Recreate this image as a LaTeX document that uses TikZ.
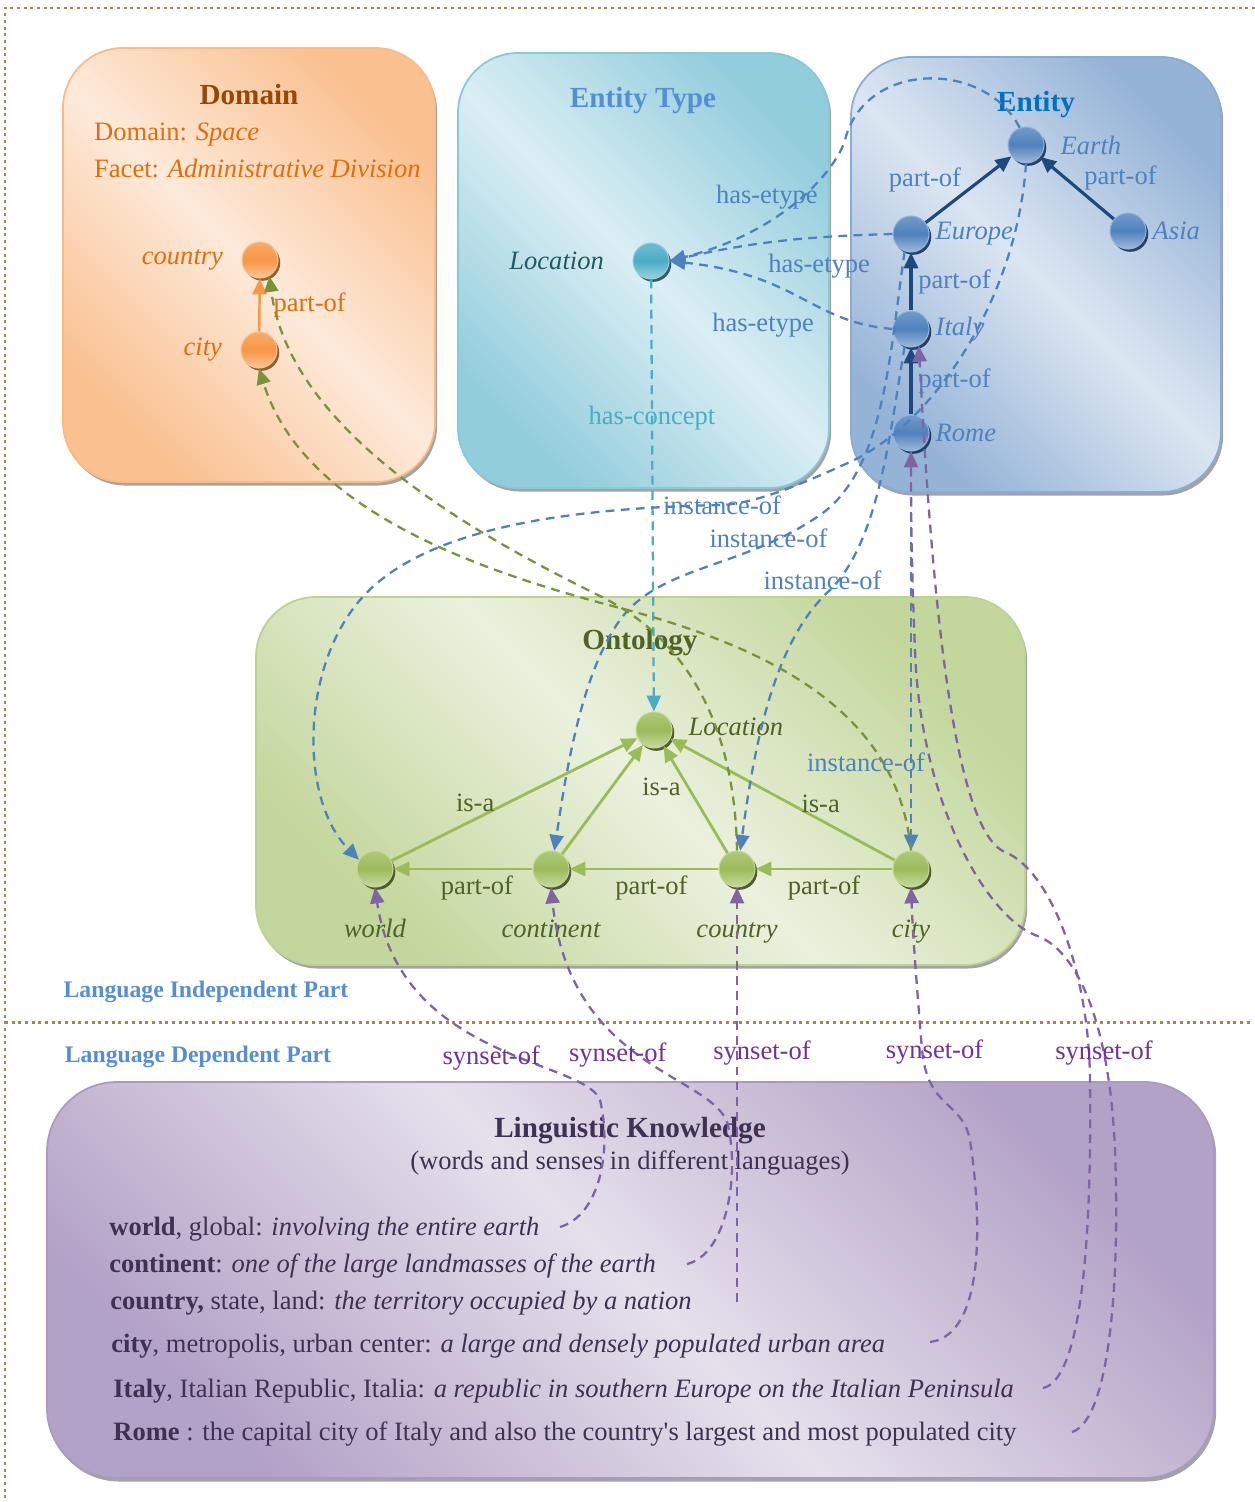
\documentclass[tikz,border=0pt]{standalone}
\usepackage{fontspec}
\setmainfont{Liberation Serif}
\newfontfamily\straightfont{Liberation Serif}
\usetikzlibrary{arrows.meta,shadows,positioning}

\tikzstyle{boxbase}=[rounded corners=1.2cm,line width=1pt,drop shadow={shadow xshift=1.2pt,shadow yshift=-2pt,fill=black!45,opacity=0.8}]
\tikzstyle{domainbox}=[top color=domdark,bottom color=domdark,middle color=domlight,shading angle=-45,draw=domdark!85!domorange,boxbase]
\tikzstyle{etypebox}=[top color=etdark,bottom color=etdark,middle color=etlight,shading angle=-45,draw=etdark!85!etteal,boxbase]
\tikzstyle{entitybox}=[top color=entdark,bottom color=entdark,middle color=entlight,shading angle=-45,draw=entdark!85!entblue,boxbase]
\tikzstyle{ontobox}=[top color=ontdark,bottom color=ontdark,middle color=ontlight,shading angle=-45,draw=ontdark!85!ontgreen,boxbase]
\tikzstyle{lingbox}=[top color=lingdark,bottom color=lingdark,middle color=linglight,shading angle=-45,draw=lingdark!85!lingpurple,boxbase,rounded corners=1.4cm]
\tikzstyle{vertex}=[circle,minimum size=0.72cm,inner sep=0pt,line width=0.6pt]
\tikzstyle{orangevertex}=[vertex,draw=domorange!60!white,top color=domorange!80!white,bottom color=domorange!55!white,middle color=domorange,drop shadow={shadow xshift=1.3pt,shadow yshift=-1.6pt,fill=domorange!55!black,opacity=0.9}]
\tikzstyle{tealvertex}=[vertex,draw=etteal!60!white,top color=etteal!80!white,bottom color=etteal!55!white,middle color=etteal,drop shadow={shadow xshift=1.3pt,shadow yshift=-1.6pt,fill=etteal!45!black,opacity=0.9}]
\tikzstyle{bluevertex}=[vertex,draw=entblue!60!white,top color=entblue!80!white,bottom color=entblue!55!white,middle color=entblue,drop shadow={shadow xshift=1.3pt,shadow yshift=-1.6pt,fill=entnavy!70!black,opacity=0.9}]
\tikzstyle{greenvertex}=[vertex,draw=ontgreen!60!white,top color=ontgreen!80!white,bottom color=ontgreen!55!white,middle color=ontgreen,drop shadow={shadow xshift=1.3pt,shadow yshift=-1.6pt,fill=onttitle!80!black,opacity=0.9}]
\tikzstyle{title}=[font=\fontsize{16.6}{20}\selectfont\bfseries]
\tikzstyle{partname}=[font=\fontsize{13.5}{16}\selectfont\bfseries,text=ettitle]
\tikzstyle{domlbl}=[text=domtext,font=\fontsize{15.1}{18}\selectfont\itshape,label distance=7pt]
\tikzstyle{entlbl}=[text=entblue,font=\fontsize{15.1}{18}\selectfont\itshape,label distance=0pt]
\tikzstyle{ontlbl}=[text=onttitle,font=\fontsize{15.1}{18}\selectfont\itshape,text height=1.6ex,text depth=0.3ex,label distance=0.62cm]
\tikzstyle{lingtext}=[anchor=base west,text=lingtitle,inner sep=0pt]
\tikzstyle{sepline}=[draw=partline,line width=1.7pt,dash pattern=on 1.7pt off 2.1pt]
\tikzstyle{dashline}=[dash pattern=on 5pt off 3.6pt,line width=1.3pt]
\tikzstyle{etypeline}=[dashline,->,draw=entblue]
\tikzstyle{instline}=[dashline,->,draw=entblue]
\tikzstyle{conceptline}=[dashline,->,draw=etteal]
\tikzstyle{domline}=[dashline,->,draw=ontdash]
\tikzstyle{synline}=[dashline,->,draw=lingpurple]
\tikzstyle{isaline}=[->,draw=ontgreen,line width=1.6pt]
\tikzstyle{entline}=[->,draw=entnavy,line width=1.8pt]
\tikzstyle{orangeline}=[->,draw=domorange,line width=1.4pt]

\definecolor{domorange}{RGB}{247,150,70}
\definecolor{domdark}{RGB}{250,192,144}
\definecolor{domlight}{RGB}{253,234,218}
\definecolor{domtitle}{RGB}{152,72,6}
\definecolor{domtext}{RGB}{228,108,10}
\definecolor{etteal}{RGB}{75,172,198}
\definecolor{etdark}{RGB}{146,205,220}
\definecolor{etlight}{RGB}{219,238,244}
\definecolor{ettitle}{RGB}{85,142,213}
\definecolor{etlabel}{RGB}{33,89,104}
\definecolor{entblue}{RGB}{79,129,189}
\definecolor{entdark}{RGB}{149,179,215}
\definecolor{entlight}{RGB}{220,230,242}
\definecolor{enttitle}{RGB}{0,112,192}
\definecolor{entnavy}{RGB}{31,73,125}
\definecolor{ontgreen}{RGB}{155,187,89}
\definecolor{ontdark}{RGB}{195,214,155}
\definecolor{ontlight}{RGB}{235,241,222}
\definecolor{onttitle}{RGB}{79,98,40}
\definecolor{ontdash}{RGB}{119,147,60}
\definecolor{lingpurple}{RGB}{128,100,162}
\definecolor{lingdark}{RGB}{179,162,199}
\definecolor{linglight}{RGB}{230,224,236}
\definecolor{lingtitle}{RGB}{63,49,81}
\definecolor{synlabel}{RGB}{112,48,160}
\definecolor{partline}{RGB}{150,138,85}

\begin{document}
\begin{tikzpicture}[x=0.02cm,y=-0.02cm,font=\fontsize{15.1}{18}\selectfont,>={Triangle[length=9pt,width=8pt]}]
\useasboundingbox (0,0) rectangle (1255,1502);

% the two parts
\draw[sepline] (1255,8) -- (5,8) -- (5,1502);
\draw[sepline] (5,1022) -- (1252,1022);
\draw (206,992) node [partname] (indepPart) {Language Independent Part};
\draw (198,1057) node [partname] (depPart) {Language Dependent Part};

% boxes
\draw[domainbox] (63,48) rectangle (435,482);
\draw[etypebox] (458,53) rectangle (829,488);
\draw[entitybox] (851,57) rectangle (1221,492);
\draw[ontobox] (256,597) rectangle (1025,965);
\draw[lingbox] (47,1082) rectangle (1214,1478);

% domain
\draw (249,95) node [title,text=domtitle] (domTitle) {Domain};
\draw (88,135) node [anchor=west,text=domtext] (domName) {Domain: \textit{Space}};
\draw (88,168) node [anchor=west,text=domtext] (domFacet) {Facet: \textit{Administrative Division}};
\draw (260,260) node [orangevertex,label={[domlbl]left:country}] (dCountry) {};
\draw (259,350) node [orangevertex,label={[domlbl]left:city}] (dCity) {};
\draw[orangeline] (dCity) -- (dCountry) node[midway,right=4pt,text=domtext] {part-of};

% entity type
\draw (643,101) node [title,text=ettitle] (etTitle) {Entity Type};
\draw (651,261) node [tealvertex,label={[text=etlabel,font=\fontsize{15.1}{18}\selectfont\itshape,label distance=0.45cm]left:Location}] (etLoc) {};

% entity
\draw (1036,105) node [title,text=enttitle] (entTitle) {Entity};
\draw (1026,145) node [bluevertex,label={[entlbl,label distance=0.2cm]right:Earth}] (eEarth) {};
\draw (911,234) node [bluevertex,label={[entlbl]right:Europe}] (eEurope) {};
\draw (1128,231) node [bluevertex,label={[entlbl]right:Asia}] (eAsia) {};
\draw (911,329) node [bluevertex,label={[entlbl]right:Italy}] (eItaly) {};
\draw (911,433) node [bluevertex,label={[entlbl]right:Rome}] (eRome) {};
\draw[entline] (eEurope) -- (eEarth) node[midway,left,yshift=0.2cm,text=entblue] {part-of};
\draw[entline] (eAsia) -- (eEarth) node[midway,right,yshift=0.2cm,text=entblue] {part-of};
\draw[entline] (eItaly) -- (eEurope) node[midway,right,text=entblue] {part-of};
\draw[entline] (eRome) -- (eItaly) node[midway,right,text=entblue] {part-of};

% ontology
\draw (640,643) node [title,text=onttitle] (ontTitle) {Ontology};
\draw (654,730) node [greenvertex,label={[ontlbl,label distance=0.2cm]right:Location}] (oLoc) {};
\draw (375,869) node [greenvertex,label={[ontlbl]below:world}] (oWorld) {};
\draw (551,869) node [greenvertex,label={[ontlbl]below:continent}] (oCont) {};
\draw (737,869) node [greenvertex,label={[ontlbl]below:country}] (oCountry) {};
\draw (911,869) node [greenvertex,label={[ontlbl]below:city}] (oCity) {};
\draw[isaline] (oCont) -- (oWorld) node[pos=0.4,below,text=onttitle] {part-of};
\draw[isaline] (oCountry) -- (oCont) node[pos=0.45,below,text=onttitle] {part-of};
\draw[isaline] (oCity) -- (oCountry) node[midway,below,text=onttitle] {part-of};
\draw[isaline] (oWorld) -- (oLoc) node[pos=0.34,above,text=onttitle] {is-a};
\draw[isaline] (oCont) -- (oLoc);
\draw[isaline] (oCountry) -- (oLoc) node[pos=0.62,left,text=onttitle] {is-a};
\draw[isaline] (oCity) -- (oLoc) node[pos=0.33,above,text=onttitle] {is-a};

% linguistic knowledge
\draw (630,1131) node [title,text=lingtitle] (lingTitle) {Linguistic Knowledge};
\draw (630,1163) node [text=lingtitle] (lingSub) {(words and senses in different languages)};
\draw (109,1235) node [lingtext] (lWorld) {\textbf{world}, global: \textit{involving the entire earth}};
\draw (109,1272) node [lingtext] (lCont) {\textbf{continent}: \textit{one of the large landmasses of the earth}};
\draw (110,1309) node [lingtext] (lCountry) {\textbf{country,} state, land: \textit{the territory occupied by a nation}};
\draw (111,1352) node [lingtext] (lCity) {\textbf{city}, metropolis, urban center: \textit{a large and densely populated urban area}};
\draw (113,1397) node [lingtext] (lItaly) {\textbf{Italy}, Italian Republic, Italia: \textit{a republic in southern Europe on the Italian Peninsula}};
\draw (113,1440) node [lingtext] (lRome) {\textbf{Rome} : the capital city of Italy and also the country{\straightfont'}s largest and most populated city};
\coordinate (sWorld) at (560,1227);
\coordinate (sCont) at (687,1264);
\coordinate (sCountry) at (737,1302);
\coordinate (sCity) at (930,1342);
\coordinate (sItaly) at (1043,1388);
\coordinate (sRome) at (1072,1432);

% has-etype and has-concept
\draw[etypeline] (eEarth.110) .. controls (985,60) and (865,60) .. (845,140) .. controls (838,165) and (790,230) .. (etLoc.east) node[pos=0.42,left=-2pt,xshift=0.18cm,yshift=-0.2cm,text=entblue] {has-etype};
\draw[etypeline] (eEurope.west) .. controls (820,236) and (760,240) .. (etLoc.east) node[pos=0.35,below,yshift=-0.2cm,text=entblue] {has-etype};
\draw[etypeline] (eItaly.west) .. controls (810,322) and (800,275) .. (etLoc.east) node[pos=0.4,below left=-4pt,yshift=-0.1cm,text=entblue] {has-etype};
\draw[conceptline] (etLoc) -- (oLoc) node[pos=0.32,text=etteal] {has-concept};

% instance-of
\draw[instline] (eEarth.south) .. controls (1018,290) and (940,420) .. (850,462) .. controls (810,480) and (760,503) .. (722,505) node[text=entblue] {instance-of} .. controls (560,508) and (420,530) .. (360,600) .. controls (300,670) and (300,800) .. (oWorld.150);
\draw[instline] (eEurope.-110) .. controls (890,350) and (885,470) .. (820,515) .. controls (742,569) and (660,565) .. (620,620) node[pos=0.22,yshift=0.1cm,text=entblue] {instance-of} .. controls (580,675) and (565,780) .. (oCont.80);
\draw[instline] (eItaly.-110) .. controls (890,430) and (880,540) .. (830,590) node[xshift=-0.15cm,yshift=0.2cm,text=entblue] {instance-of} .. controls (775,640) and (755,740) .. (oCountry.80);
\draw[instline] (eRome) -- (oCity) node[pos=0.78,xshift=-0.9cm,text=entblue] {instance-of};

% domain links
\draw[domline] (oCountry.north) .. controls (735,730) and (690,640) .. (600,596) .. controls (470,532) and (290,430) .. (dCountry.-60);
\draw[domline] (oCity.north) .. controls (900,740) and (820,660) .. (620,608) .. controls (450,564) and (300,500) .. (dCity.south);

% synset-of
\draw[synline] (sWorld) .. controls (600,1215) and (612,1150) .. (600,1100) .. controls (585,1060) and (400,1060) .. (oWorld.south) node[pos=0.5,yshift=-0.3cm,text=synlabel] {synset-of};
\draw[synline] (sCont) .. controls (725,1255) and (740,1180) .. (728,1125) .. controls (715,1075) and (570,1070) .. (oCont.south) node[pos=0.6,yshift=-0.39cm,text=synlabel] {synset-of};
\draw[synline] (sCountry) -- (oCountry.south) node[pos=0.6,xshift=0.5cm,text=synlabel] {synset-of};
\draw[synline] (sCity) .. controls (985,1335) and (982,1220) .. (970,1140) .. controls (962,1100) and (928,1110) .. (922,1050) node[xshift=0.25cm,yshift=-0.05cm,text=synlabel] {synset-of} .. controls (918,1000) and (913,940) .. (oCity.south);
\draw[synline] (sItaly) .. controls (1080,1380) and (1092,1250) .. (1090,1080) .. controls (1089,970) and (1050,870) .. (1005,852) .. controls (950,830) and (930,560) .. (eItaly.-65);
\draw[synline] (sRome) .. controls (1110,1420) and (1120,1280) .. (1115,1150) .. controls (1110,1030) and (1080,950) .. (1035,935) node[pos=0.3,text=synlabel] {synset-of} .. controls (985,915) and (920,800) .. (915,650) .. controls (912,580) and (911,520) .. (eRome.south);
\end{tikzpicture}
\end{document}
